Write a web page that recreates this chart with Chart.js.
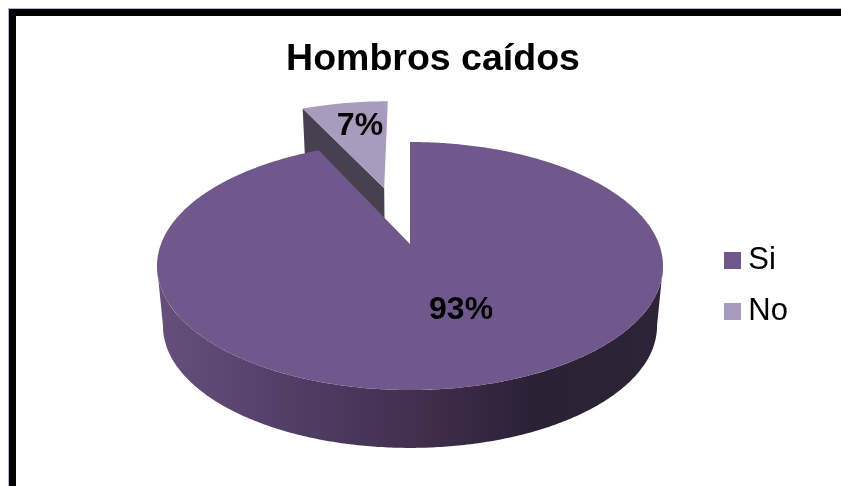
<!DOCTYPE html>
<html>
<head>
<meta charset="utf-8">
<title>Hombros caídos</title>
<script src="https://cdn.jsdelivr.net/npm/chart.js@4"></script>
<style>
    html, body { margin: 0; padding: 0; background: #fff; }
    #wrap { position: relative; width: 841px; height: 486px; overflow: hidden; }
    #frame { position: absolute; left: 9px; top: 9px; width: 900px; height: 600px; border-left: 7px solid #000; border-top: 7px solid #000; box-shadow: -1px -1px 0 #bba9d6; }
    #pie { position: absolute; left: 0; top: 0; }
</style>
</head>
<body>
<div id="wrap">
    <div id="frame"></div>
    <canvas id="pie" width="841" height="486"></canvas>
</div>
<script>
const categories = ['Si', 'No'];
const values = [93, 7];
const faceColors = ['#70588c', '#a99bbd'];

// Proyeccion en perspectiva del disco: (u, v) en unidades de radio
const PIE_X = 410;
const TOP_PLANE = { y: 244, w: 249, h: 120.1, k: 0.1774 };
const BOTTOM_PLANE = { y: 304, w: 243, h: 118, k: 0.18 };

function project(plane, u, v) {
    const d = 1 - plane.k * v;
    return [PIE_X + plane.w * u / d, plane.y + plane.h * v / d];
}

function rim(plane, angle, ou, ov) {
    return project(plane, Math.cos(angle) + ou, Math.sin(angle) + ov);
}

function tracePath(ctx, points) {
    ctx.beginPath();
    points.forEach((p, i) => (i ? ctx.lineTo(p[0], p[1]) : ctx.moveTo(p[0], p[1])));
    ctx.closePath();
}

function arcPoints(plane, a0, a1, ou, ov) {
    const pts = [];
    const steps = Math.max(2, Math.ceil(Math.abs(a1 - a0) / 0.01));
    for (let i = 0; i <= steps; i++) {
        pts.push(rim(plane, a0 + (a1 - a0) * i / steps, ou, ov));
    }
    return pts;
}

function sliceOffset(arc) {
    const off = (arc.options.offset || 0) / arc.outerRadius;
    const mid = (arc.startAngle + arc.endAngle) / 2;
    return [off * Math.cos(mid), off * Math.sin(mid)];
}

function drawSlice(ctx, arc, color) {
    const [ou, ov] = sliceOffset(arc);
    const apex = project(TOP_PLANE, ou, ov);
    const apexLow = project(BOTTOM_PLANE, ou, ov);

    // cara del corte que mira hacia delante
    if (ov < 0) {
        tracePath(ctx, [apex, rim(TOP_PLANE, arc.startAngle, ou, ov), rim(BOTTOM_PLANE, arc.startAngle, ou, ov), apexLow]);
        ctx.fillStyle = '#47414f';
        ctx.fill();
    }

    // pared exterior, solo la parte visible entre los dos extremos de la silueta
    const edge = Math.asin(TOP_PLANE.k);
    const a0 = Math.max(arc.startAngle, edge);
    const a1 = Math.min(arc.endAngle, Math.PI - edge);
    if (a1 > a0) {
        const grad = ctx.createLinearGradient(157, 0, 664, 0);
        grad.addColorStop(0, '#65507c');
        grad.addColorStop(0.25, '#523f68');
        grad.addColorStop(0.5, '#41304f');
        grad.addColorStop(0.65, '#352640');
        grad.addColorStop(0.75, '#2a2135');
        grad.addColorStop(1, '#2e2439');
        tracePath(ctx, arcPoints(TOP_PLANE, a0, a1, ou, ov).concat(arcPoints(BOTTOM_PLANE, a1, a0, ou, ov)));
        ctx.fillStyle = grad;
        ctx.fill();
    }

    // cara superior
    tracePath(ctx, [apex].concat(arcPoints(TOP_PLANE, arc.startAngle, arc.endAngle, ou, ov)));
    ctx.fillStyle = color;
    ctx.fill();
}

// Sustituye el dibujo plano de los arcos por el disco con volumen
const pie3d = {
    id: 'pie3d',
    beforeDatasetDraw(chart, args) {
        const ctx = chart.ctx;
        const arcs = args.meta.data;
        ctx.save();
        for (let i = arcs.length - 1; i >= 0; i--) {
            drawSlice(ctx, arcs[i], faceColors[i]);
        }
        ctx.restore();
        return false;
    },
    afterDatasetsDraw(chart) {
        const ctx = chart.ctx;
        const arcs = chart.getDatasetMeta(0).data;
        const total = values.reduce((a, b) => a + b, 0);
        // posicion de cada porcentaje sobre el disco, relativa al centro de su porcion
        const spots = [[0.187, 0.5], [-0.13, -0.677]];
        ctx.save();
        ctx.fillStyle = '#000';
        ctx.font = 'bold 32px "Liberation Sans"';
        ctx.textAlign = 'center';
        ctx.textBaseline = 'middle';
        arcs.forEach((arc, i) => {
            const [ou, ov] = sliceOffset(arc);
            const p = project(TOP_PLANE, ou + spots[i][0], ov + spots[i][1]);
            ctx.fillText(Math.round(values[i] / total * 100) + '%', p[0], p[1]);
        });
        ctx.restore();
    }
};

// Cuadrito de la leyenda: como imagen queda mas pegado al texto que el recuadro normal
function swatch(color) {
    const c = document.createElement('canvas');
    c.width = 17;
    c.height = 17;
    const g = c.getContext('2d');
    g.fillStyle = color;
    g.fillRect(0, 0, 17, 17);
    return c;
}

new Chart(document.getElementById('pie'), {
    type: 'pie',
    data: {
        labels: categories,
        datasets: [{
            data: values,
            backgroundColor: faceColors,
            borderWidth: 0,
            offset: [0, 80]
        }]
    },
    options: {
        responsive: false,
        animation: false,
        layout: { padding: { left: 68, right: 43, bottom: 6 } },
        plugins: {
            title: {
                display: true,
                text: 'Hombros caídos',
                color: '#000',
                font: { family: '"Liberation Sans"', size: 37.5, weight: 'bold' },
                padding: { top: 37, bottom: 9 }
            },
            legend: {
                position: 'right',
                fullSize: false,
                labels: {
                    boxWidth: 17,
                    boxHeight: 17,
                    padding: 20,
                    color: '#000',
                    font: { family: '"Liberation Sans"', size: 31 },
                    usePointStyle: true,
                    pointStyleWidth: 1,
                    generateLabels(chart) {
                        const items = Chart.overrides.pie.plugins.legend.labels.generateLabels(chart);
                        items.forEach((item, i) => { item.pointStyle = swatch(faceColors[i]); });
                        return items;
                    }
                }
            },
            tooltip: { enabled: false }
        }
    },
    plugins: [pie3d]
});
</script>
</body>
</html>
